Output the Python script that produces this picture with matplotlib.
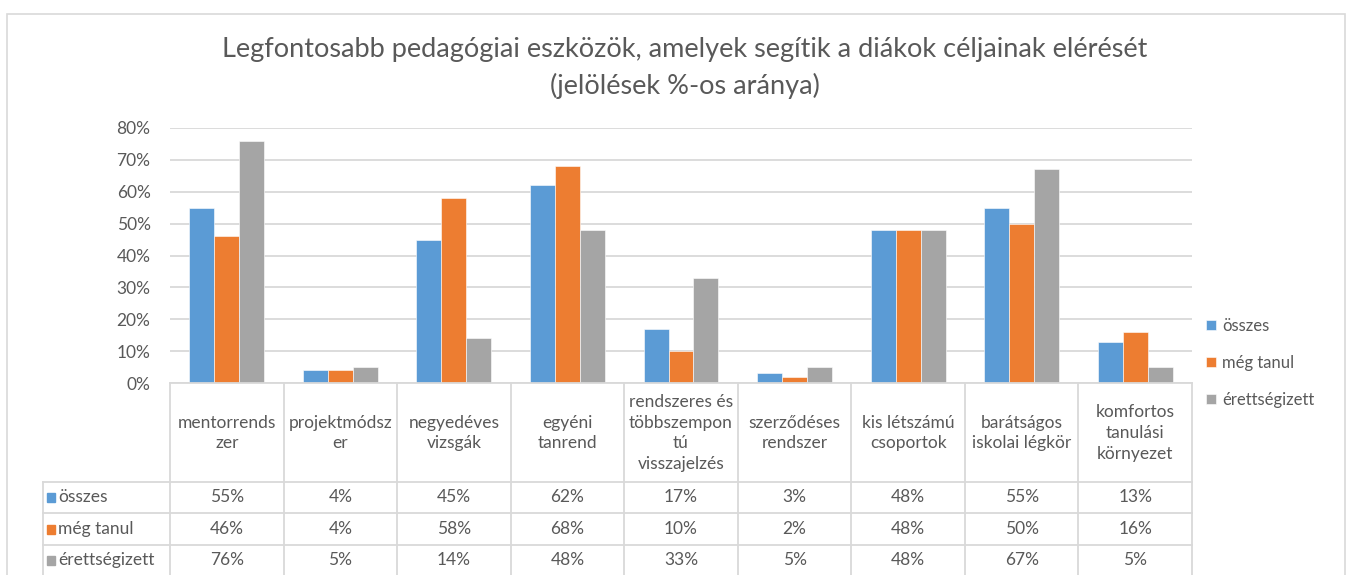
import matplotlib
matplotlib.use('Agg')
import matplotlib.pyplot as plt
import matplotlib.transforms as mtransforms
from matplotlib.lines import Line2D
from matplotlib.patches import Rectangle
import numpy as np

plt.rcParams['font.family'] = ['Lato', 'DejaVu Sans']

# adatok
categories = [
    "mentorrends\nzer", "projektmódsz\ner", "negyedéves\nvizsgák", "egyéni\ntanrend",
    "rendszeres és\ntöbbszempon\ntú\nvisszajelzés", "szerződéses\nrendszer",
    "kis létszámú\ncsoportok", "barátságos\niskolai légkör", "komfortos\ntanulási\nkörnyezet",
]
series_names = ["összes", "még tanul", "érettségizett"]
osszes = [55, 4, 45, 62, 17, 3, 48, 55, 13]
meg_tanul = [46, 4, 58, 68, 10, 2, 48, 50, 16]
erettsegizett = [76, 5, 14, 48, 33, 5, 48, 67, 5]
colors = ["#5B9BD5", "#ED7D31", "#A5A5A5"]

W, H = 1350, 575
TXT = "#595959"
LINE = "#D9D9D9"
FS = 12


def fx(x):
    return x / W


def fy(y):
    return 1 - y / H


fig = plt.figure(figsize=(W / 100, H / 100), dpi=100)

# keret
fig.add_artist(Rectangle((fx(7), fy(H + 5)), fx(1345 - 7), fy(14) - fy(H + 5),
                         fill=False, edgecolor=LINE, linewidth=1.2, transform=fig.transFigure))

fig.text(fx(685), fy(50), "Legfontosabb pedagógiai eszközök, amelyek segítik a diákok céljainak elérését",
         ha="center", va="center", fontsize=19.5, color=TXT)
fig.text(fx(685), fy(86), "(jelölések %-os aránya)", ha="center", va="center", fontsize=19.5, color=TXT)

ax = fig.add_axes([fx(170), fy(383), fx(1192 - 170), fy(128) - fy(383)])
data = [osszes, meg_tanul, erettsegizett]
x = np.arange(len(categories))
bw = 0.22
for i, (vals, name, c) in enumerate(zip(data, series_names, colors)):
    ax.bar(x + (i - 1) * bw, np.array(vals) / 100, width=bw, color=c, label=name,
           edgecolor="white", linewidth=0.4, zorder=3)

ax.set_xlim(-0.5, len(categories) - 0.5)
ax.set_ylim(0, 0.8)
ax.set_yticks(np.arange(0, 0.81, 0.1))
ax.set_yticklabels([f"{int(round(v * 100))}%" for v in np.arange(0, 0.81, 0.1)])
ax.set_xticks([])
ax.tick_params(axis="y", length=0, pad=14, labelsize=12.5, labelcolor=TXT)
for s in ax.spines.values():
    s.set_visible(False)
ax.grid(axis="y", color=LINE, linewidth=1.3, zorder=0)
ax.set_axisbelow(True)

leg = ax.legend(loc="upper left", bbox_to_anchor=(fx(1206), fy(318)), bbox_transform=fig.transFigure,
                frameon=False, fontsize=FS, handlelength=0.6, handleheight=0.6,
                handletextpad=0.35, labelspacing=1.25, borderaxespad=0, borderpad=0)
for t in leg.get_texts():
    t.set_color(TXT)

# adattábla
tr = mtransforms.blended_transform_factory(ax.transData, fig.transFigure)
row_lines = [482, 513, 545]
bottom = H + 5
for b in np.arange(-0.5, len(categories), 1.0):
    fig.add_artist(Line2D([b, b], [fy(383), fy(bottom)], color=LINE, linewidth=1.3, transform=tr))
fig.add_artist(Line2D([fx(43), fx(43)], [fy(482), fy(bottom)], color=LINE, linewidth=1.3,
                      transform=fig.transFigure))
fig.add_artist(Line2D([fx(170), fx(1192)], [fy(383), fy(383)], color=LINE, linewidth=1.3,
                      transform=fig.transFigure))
for ry in row_lines:
    fig.add_artist(Line2D([fx(43), fx(1192)], [fy(ry), fy(ry)], color=LINE, linewidth=1.3,
                          transform=fig.transFigure))

for i, cat in enumerate(categories):
    fig.text(i, fy(433), cat, transform=tr, ha="center", va="center", fontsize=12.5, color=TXT,
             linespacing=1.35)

row_centers = [497, 529, 560]
for vals, name, c, ry in zip(data, series_names, colors, row_centers):
    fig.add_artist(Rectangle((fx(47), fy(ry + 4.5)), fx(8), fy(ry - 4.5) - fy(ry + 4.5),
                             color=c, transform=fig.transFigure))
    fig.text(fx(58), fy(ry), name, ha="left", va="center", fontsize=12.5, color=TXT)
    for i, v in enumerate(vals):
        fig.text(i, fy(ry), f"{v}%", transform=tr, ha="center", va="center", fontsize=12.5, color=TXT)

fig.savefig("out.png", dpi=100, facecolor="white")
